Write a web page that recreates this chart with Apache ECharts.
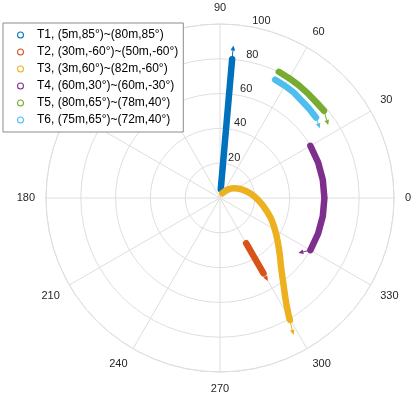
<!DOCTYPE html>
<html>
<head>
<meta charset="utf-8">
<script src="https://cdn.jsdelivr.net/npm/echarts@6/dist/echarts.min.js"></script>
<style>
html,body{margin:0;padding:0;background:#fff;}
#main{width:416px;height:396px;}
</style>
</head>
<body>
<div id="main"></div>
<script>
// track names (legend)
var names = [
  'T1, (5m,85°)~(80m,85°)',
  'T2, (30m,-60°)~(50m,-60°)',
  'T3, (3m,60°)~(82m,-60°)',
  'T4, (60m,30°)~(60m,-30°)',
  'T5, (80m,65°)~(78m,40°)',
  'T6, (75m,65°)~(72m,40°)'
];
var colors = ['#0072BD', '#D95319', '#EDB120', '#7E2F8E', '#77AC30', '#4DBEEE'];

// [radius m, angle deg]
var t1 = [[5, 85], [80, 85]];
var t2 = [[30, -60], [50, -60]];
var t3 = [[3, 65], [6, 50], [9.5, 36], [13.4, 22], [17.5, 9], [22, -3], [26.5, -12.9],
          [31.5, -21.7], [36.6, -30.2], [41.6, -37.1], [47.9, -44.0], [52.8, -48.4],
          [61, -53.4], [69.7, -57.2], [77, -59.4], [80.8, -60.2]];
var t4 = [[60, 30], [60, 20], [60, 10], [60, 0], [60, -10], [60, -20], [60, -30]];
var t5 = [[80, 65], [79.5, 60], [79, 55], [78.5, 50], [78, 45], [78, 40]];
var t6 = [[75, 65], [74.5, 60], [74, 55], [73, 50], [72.5, 45], [72, 40]];
var tracks = [t1, t2, t3, t4, t5, t6];

// arrow: [r from, angle from, r to, angle to, track index]
var arrows = [
  [80, 85, 88, 85, 0],
  [50, -60, 55, -60, 1],
  [80.8, -60.2, 89.3, -61.8, 2],
  [60, -30, 55, -35, 3],
  [78, 40, 75, 34, 4],
  [72, 40, 70, 35, 5]
];

var angleTicks = 30;
var radiusTicks = 20;

var cx = 220, cy = 198, R = 174;
var gridColor = '#dedede';
var labelFont = {color: '#262626', fontSize: 11, fontFamily: 'Liberation Sans, Arial'};
// hollow ring used as legend marker
var ringIcon = 'path://M5,0A5,5,0,1,1,5,10A5,5,0,1,1,5,0ZM5,1.5A3.5,3.5,0,1,0,5,8.5A3.5,3.5,0,1,0,5,1.5Z';

var myChart = echarts.init(document.getElementById('main'));

var series = tracks.map(function (d, i) {
  return {
    name: names[i],
    type: 'line',
    coordinateSystem: 'polar',
    polarIndex: 0,
    data: d,
    smooth: i == 2 ? 0.2 : false,
    showSymbol: false,
    lineStyle: {width: 6.5, color: colors[i], cap: 'round', join: 'round'},
    itemStyle: {color: colors[i]},
    z: 3
  };
});

series.push({
  type: 'custom',
  coordinateSystem: 'polar',
  polarIndex: 0,
  dimensions: ['r0', 'a0', 'r1', 'a1', 'k'],
  encode: {radius: [0, 2], angle: [1, 3]},
  data: arrows,
  z: 4,
  renderItem: function (params, api) {
    var p0 = api.coord([api.value(0), api.value(1)]);
    var p1 = api.coord([api.value(2), api.value(3)]);
    var c = colors[api.value(4)];
    var dx = p1[0] - p0[0], dy = p1[1] - p0[1];
    var len = Math.sqrt(dx * dx + dy * dy);
    var ux = dx / len, uy = dy / len;
    var hl = 5, hw = 2.3;
    var bx = p1[0] - ux * hl, by = p1[1] - uy * hl;
    return {
      type: 'group',
      children: [
        {type: 'line', shape: {x1: p0[0], y1: p0[1], x2: bx, y2: by},
         style: {stroke: c, lineWidth: 1}},
        {type: 'polygon',
         shape: {points: [p1, [bx - uy * hw, by + ux * hw], [bx + uy * hw, by - ux * hw]]},
         style: {fill: c}}
      ]
    };
  }
});

var option = {
  animation: false,
  color: colors,
  legend: {
    data: names,
    orient: 'vertical',
    left: 3,
    top: 23,
    icon: ringIcon,
    itemWidth: 7,
    itemHeight: 7,
    itemGap: 3,
    padding: [5, 5, 5, 14],
    backgroundColor: '#fff',
    borderColor: '#8c8c8c',
    borderWidth: 1,
    borderRadius: 0,
    selectedMode: false,
    textStyle: {color: '#000', fontSize: 12, lineHeight: 14, padding: [0, 0, 0, 8],
                fontFamily: 'Liberation Sans, Arial'}
  },
  polar: [
    {center: [cx, cy], radius: R},
    {center: [cx, cy], radius: R}
  ],
  angleAxis: [
    {
      polarIndex: 0, type: 'value', min: 0, max: 360, interval: angleTicks,
      startAngle: 0, clockwise: false,
      axisLine: {show: true, lineStyle: {color: gridColor, width: 1}},
      axisTick: {show: false},
      axisLabel: Object.assign({margin: 11}, labelFont),
      splitLine: {show: true, lineStyle: {color: gridColor, width: 1}}
    },
    {
      polarIndex: 1, type: 'value', min: 0, max: 360, startAngle: 80, clockwise: false,
      axisLine: {show: false}, axisTick: {show: false}, axisLabel: {show: false},
      splitLine: {show: false}
    }
  ],
  radiusAxis: [
    {
      polarIndex: 0, type: 'value', min: 0, max: 100, interval: radiusTicks,
      axisLine: {show: false}, axisTick: {show: false}, axisLabel: {show: false},
      splitLine: {show: true, lineStyle: {color: gridColor, width: 1}}
    },
    {
      polarIndex: 1, type: 'value', min: 0, max: 100, interval: radiusTicks,
      axisLine: {show: false}, axisTick: {show: false},
      axisLabel: Object.assign({show: true, margin: -2, showMinLabel: false,
                                align: 'left', verticalAlign: 'bottom', padding: [0, 0, 1, 0]}, labelFont),
      splitLine: {show: false}
    }
  ],
  series: series
};

myChart.setOption(option);
</script>
</body>
</html>
